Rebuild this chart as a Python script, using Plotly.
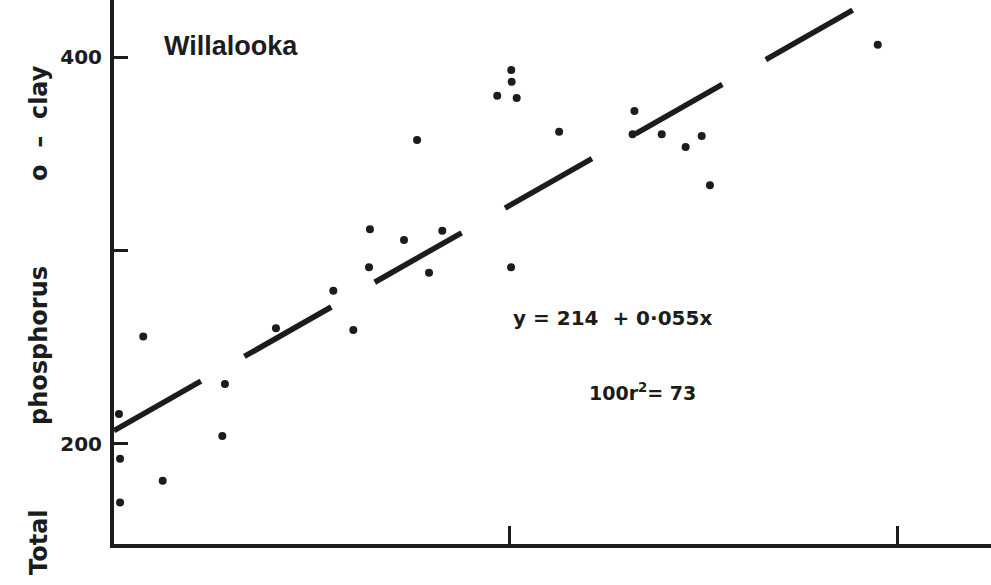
import plotly.graph_objects as go

# ---- data ----
x_vals = [-103, -97, -97, 27, 131, 450, 464, 737, 1044, 1151, 1235, 1240, 1422,
          1492, 1556, 1627, 1921, 1996, 1998, 2025, 1995, 2252, 2655, 2645,
          2801, 2929, 3015, 3059, 3957]
p_vals = [215.5, 192.4, 169.7, 255.5, 181.0, 204.1, 231.0, 259.8, 279.2, 258.9,
          291.3, 311.0, 305.4, 357.1, 288.5, 310.2, 380.0, 393.3, 387.2, 378.8,
          291.3, 361.4, 372.1, 360.1, 360.1, 353.5, 359.2, 333.7, 406.4]
intercept = 214
slope = 0.055
y_label_ticks = [200, 400]
y_tick_labels = ["200", "400"]
y_tick_step = 100
x_ticks = [1985, 4060]
x_range = [-129.5, 4562.8]
y_range = [148.3, 429.5]

site = "Willalooka"
equation = "y = 214  + 0·055x"
r2_text = "100r<sup>2</sup>= 73"
ylabel_parts = ["Total", "phosphorus", "o  –  clay"]

# ---- figure ----
W, H = 991, 585
L, R, T, B = 114, 0, 0, 41
pw, ph = W - L - R, H - T - B
ink = "#1c1c1c"


def px(xp):
    return (xp - L) / pw


def py(yp):
    return (H - B - yp) / ph


fig = go.Figure()

fit_x = [x_range[0], x_range[1]]
fit_y = [intercept + slope * v for v in fit_x]
fig.add_trace(go.Scatter(x=fit_x, y=fit_y, mode="lines",
                         line=dict(color=ink, width=5.5, dash="100px,50px"),
                         hoverinfo="skip", showlegend=False))
fig.add_trace(go.Scatter(x=x_vals, y=p_vals, mode="markers",
                         marker=dict(color=ink, size=8),
                         showlegend=False))

fig.update_layout(
    width=W, height=H, autosize=False,
    margin=dict(l=L, r=R, t=T, b=B, pad=0),
    plot_bgcolor="white", paper_bgcolor="white",
    xaxis=dict(range=x_range, showline=True, linewidth=4, linecolor=ink,
               ticks="inside", ticklen=18, tickwidth=2.5, tickcolor=ink,
               tickvals=x_ticks, showticklabels=False,
               showgrid=False, zeroline=False),
    yaxis=dict(range=y_range, showline=True, linewidth=4, linecolor=ink,
               ticks="inside", ticklen=14, tickwidth=2.5, tickcolor=ink,
               tickvals=y_label_ticks, ticktext=y_tick_labels,
               ticklabelstandoff=4,
               minor=dict(ticks="inside", ticklen=14, tickwidth=2.5,
                          tickcolor=ink, dtick=y_tick_step, tick0=0,
                          showgrid=False),
               tickfont=dict(family="DejaVu Sans", size=20, color=ink,
                             weight="bold"),
               showgrid=False, zeroline=False),
)

fig.add_annotation(text=site, xref="paper", yref="paper",
                   x=px(162), y=py(46), xanchor="left", yanchor="middle",
                   showarrow=False,
                   font=dict(family="Liberation Sans, Arial", size=27,
                             color=ink, weight="bold"))
fig.add_annotation(text=equation, xref="paper", yref="paper",
                   x=px(511), y=py(318), xanchor="left", yanchor="middle",
                   showarrow=False,
                   font=dict(family="DejaVu Sans", size=20, color=ink,
                             weight="bold"))
fig.add_annotation(text=r2_text, xref="paper", yref="paper",
                   x=px(587), y=py(392), xanchor="left", yanchor="middle",
                   showarrow=False,
                   font=dict(family="DejaVu Sans", size=19, color=ink,
                             weight="bold"))

label_centers = [542, 346, 123]
for txt, cy in zip(ylabel_parts, label_centers):
    fig.add_annotation(text=txt, xref="paper", yref="paper",
                       x=px(39), y=py(cy), xanchor="center", yanchor="middle",
                       textangle=-90, showarrow=False,
                       font=dict(family="DejaVu Sans", size=24, color=ink,
                                 weight="bold"))

fig.write_html("out.html")
